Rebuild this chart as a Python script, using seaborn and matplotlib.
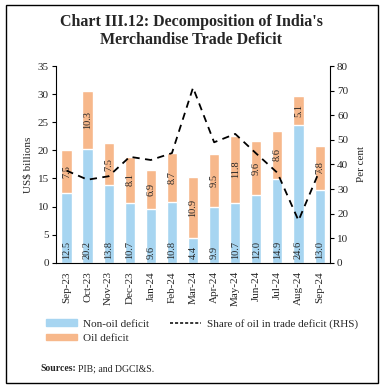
import numpy as np
import matplotlib
matplotlib.use("Agg")
import matplotlib.pyplot as plt
import seaborn as sns
from matplotlib.patches import Patch, Rectangle
from matplotlib.lines import Line2D

# --- datos ---
months = ["Sep-23", "Oct-23", "Nov-23", "Dec-23", "Jan-24", "Feb-24", "Mar-24",
          "Apr-24", "May-24", "Jun-24", "Jul-24", "Aug-24", "Sep-24"]
non_oil = [12.5, 20.2, 13.8, 10.7, 9.6, 10.8, 4.4, 9.9, 10.7, 12.0, 14.9, 24.6, 13.0]
oil = [7.5, 10.3, 7.5, 8.1, 6.9, 8.7, 10.9, 9.5, 11.8, 9.6, 8.6, 5.1, 7.8]
oil_share = [37.5, 33.8, 35.2, 43.1, 41.8, 44.6, 71.2, 49.0, 52.4, 44.4, 36.6, 17.2, 37.5]

blue = "#A7D5F1"
orange = "#F7B88B"

sns.set_theme(style="white")
plt.rcParams["font.family"] = ["Liberation Serif", "DejaVu Serif"]

fig = plt.figure(figsize=(3.83, 3.86), dpi=100)
ax = fig.add_axes([0.146, 0.319, 0.716, 0.510])

x = np.arange(len(months))
totals = [a + b for a, b in zip(non_oil, oil)]

sns.barplot(x=months, y=non_oil, color=blue, width=0.48, ax=ax, saturation=1)
sns.barplot(x=months, y=totals, color=orange, width=0.48, ax=ax, saturation=1, zorder=0)

# etiquetas dentro de las barras
for i in range(len(months)):
    ax.text(x[i], 0.6, f"{non_oil[i]:.1f}", rotation=90, ha="center", va="bottom", fontsize=7.5)
    ax.text(x[i], non_oil[i] + oil[i] / 2, f"{oil[i]:.1f}", rotation=90, ha="center",
            va="center", fontsize=7.5)

ax.set_xlim(-0.5, len(months) - 0.5)
ax.set_ylim(0, 35)
ax.set_yticks(range(0, 36, 5))
ax.set_ylabel("US$ billions", fontsize=8, labelpad=4)
ax.set_xticks(x)
ax.set_xticklabels(months, rotation=90, fontsize=8)
ax.set_xticks(np.arange(-0.5, len(months), 1), minor=True)
ax.tick_params(axis="x", which="major", length=0, pad=6)
ax.tick_params(axis="x", which="minor", length=4, width=0.8, color="black", direction="out")
ax.tick_params(axis="y", length=3, width=0.8, color="black", direction="out", labelsize=8, pad=2)
for s in ["left", "bottom"]:
    ax.spines[s].set_color("black")
    ax.spines[s].set_linewidth(0.8)
ax.spines["top"].set_visible(False)
ax.spines["right"].set_visible(False)

ax2 = ax.twinx()
sns.lineplot(x=x, y=oil_share, ax=ax2, color="black", linestyle=(0, (4, 3)), linewidth=1.3)
ax2.set_ylim(0, 80)
ax2.set_yticks(range(0, 81, 10))
ax2.set_ylabel("Per cent", fontsize=8, labelpad=6)
ax2.tick_params(axis="y", length=3, width=0.8, color="black", direction="out", labelsize=8, pad=2)
ax2.spines["right"].set_color("black")
ax2.spines["right"].set_linewidth(0.8)
for s in ["top", "left", "bottom"]:
    ax2.spines[s].set_visible(False)

fig.text(0.5, 0.965, "Chart III.12: Decomposition of India's\nMerchandise Trade Deficit",
         ha="center", va="top", fontsize=11.5, fontweight="bold", linespacing=1.2)

handles = [Patch(color=blue, label="Non-oil deficit"),
           Patch(color=orange, label="Oil deficit"),
           Line2D([], [], color="black", linestyle=(0, (2, 1.3)), linewidth=1.1,
                  label="Share of oil in trade deficit (RHS)")]
fig.legend(handles=handles, loc="upper left", ncol=2,
           bbox_to_anchor=(0.095, 0.2), frameon=False, fontsize=8, handlelength=2.8,
           handleheight=0.5, columnspacing=1.9, labelspacing=0.5, handletextpad=0.5)

# pie de grafico: "Sources:" en negrita
t1 = fig.text(0.105, 0.045, "Sources:", fontsize=7, fontweight="bold", va="center")
fig.canvas.draw()
bb = t1.get_window_extent().transformed(fig.transFigure.inverted())
fig.text(bb.x1 + 0.005, 0.045, "PIB; and DGCI&S.", fontsize=7, va="center")

fig.patches.append(Rectangle((0.015, 0.008), 0.972, 0.98, transform=fig.transFigure,
                             fill=False, edgecolor="black", linewidth=1.0))

plt.savefig("out.png", dpi=100)
plt.close()
